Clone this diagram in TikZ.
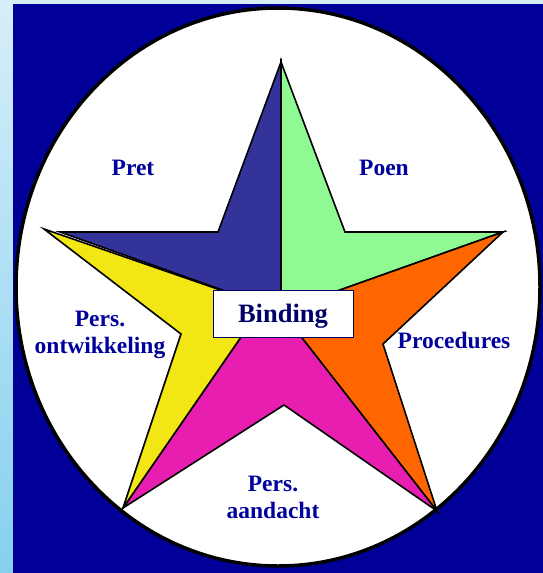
\documentclass[tikz,border=0pt]{standalone}
\usepackage{fontspec}
\setmainfont{Liberation Serif}
\usetikzlibrary{positioning}

\definecolor{bgblue}{HTML}{000099}
\definecolor{skyblue}{HTML}{86D0EE}
\definecolor{skylight}{HTML}{D6EEFA}
\definecolor{pretblue}{HTML}{333399}
\definecolor{poengreen}{HTML}{8FFA94}
\definecolor{procorange}{HTML}{FF6600}
\definecolor{aandmagenta}{HTML}{E81EB0}
\definecolor{ontwyellow}{HTML}{F2E614}
\definecolor{labelblue}{HTML}{00009C}
\definecolor{navy}{HTML}{000066}

\begin{document}
\begin{tikzpicture}[x=1pt, y=-1pt,
    piece/.style={draw=black, line width=1.6pt, line join=miter},
    lbl/.style={text=labelblue, font=\fontsize{23.5}{27}\selectfont\bfseries, align=center, inner sep=0pt},
    every node/.style={font=\small}]
  \useasboundingbox (0,0) rectangle (543,573);
  % background
  \shade[top color=skylight, bottom color=skyblue] (0,0) rectangle (543,573);
  \fill[bgblue] (13,4) rectangle (543,573);
  \draw[fill=white, line width=3.5pt] (278,287) ellipse [x radius=262, y radius=279];

  % star points
  \coordinate (top)  at (281,62);
  \coordinate (iul)  at (218,232);
  \coordinate (ltb)  at (60,232);
  \coordinate (lty)  at (44,229);
  \coordinate (il)   at (181,334);
  \coordinate (llt)  at (123,508);
  \coordinate (ib)   at (284,405);
  \coordinate (lrt)  at (437,511);
  \coordinate (ir)   at (383,344);
  \coordinate (rt)   at (503,232);
  \coordinate (iur)  at (345,232);
  \coordinate (ctr)  at (281,311);
  \coordinate (ctrb) at (259,311);

  % star pieces
  \draw[piece, fill=pretblue]    (top) -- (iul) -- (ltb) -- (ctr) -- cycle;
  \draw[piece, fill=poengreen]   (top) -- (ctr) -- (rt) -- (iur) -- cycle;
  \draw[piece, fill=procorange]  (rt) -- (ctr) -- (lrt) -- (ir) -- cycle;
  \draw[piece, fill=aandmagenta] (lrt) -- (ctr) -- (ctrb) -- (llt) -- (ib) -- cycle;
  \draw[piece, fill=ontwyellow]  (lty) -- (ctr) -- (ctrb) -- (llt) -- (il) -- cycle;

  % labels
  \node[draw=navy, line width=0.8pt, fill=white, minimum width=140pt, minimum height=47pt,
        text height=17.5pt, text depth=0.5pt,
        text=navy, font=\fontsize{26.5}{30}\selectfont\bfseries] (binding) at (283,313.5) {Binding};
  \node[lbl] (pret) at (133,168) {Pret};
  \node[lbl] (poen) at (384,168) {Poen};
  \node[lbl] (ontw) at (100,335) {Pers.\\ontwikkeling};
  \node[lbl] (proc) at (454,340) {Procedures};
  \node[lbl] (aand) at (273,497) {Pers.\\aandacht};
\end{tikzpicture}
\end{document}
